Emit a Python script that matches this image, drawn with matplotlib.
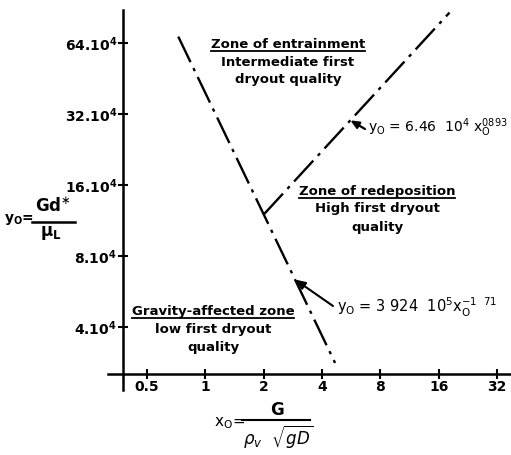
import matplotlib
matplotlib.use("Agg")
import matplotlib.pyplot as plt
import numpy as np
from matplotlib.lines import Line2D

# Axis ticks
x_ticks = [0.5, 1, 2, 4, 8, 16, 32]
x_tick_labels = ["0.5", "1", "2", "4", "8", "16", "32"]
y_ticks = [4e4, 8e4, 16e4, 32e4, 64e4]
y_tick_labels = [r"4.10$^{\mathbf{4}}$", r"8.10$^{\mathbf{4}}$", r"16.10$^{\mathbf{4}}$",
                 r"32.10$^{\mathbf{4}}$", r"64.10$^{\mathbf{4}}$"]

# Zone boundaries: y0 = coef * x0**expo, drawn between the x0 end points
gravity_coef, gravity_expo = 3.924e5, -1.71
gravity_x = [0.724, 4.67]
entrain_coef, entrain_expo = 6.46e4, 0.893
entrain_x = [2.0, 18.2]

FONT = "DejaVu Sans"
DASH = (0, (12, 2.8, 1.4, 2.8))
W, H = 511, 455

fig = plt.figure(figsize=(5.11, 4.55), dpi=100)
ax = fig.add_axes([108 / W, 65 / H, 403 / W, 380 / H])
ax.set_xscale("log")
ax.set_yscale("log")
ax.set_xlim(0.314, 37.8)
ax.set_ylim(2.16e4, 88.4e4)

for s in ("top", "right"):
    ax.spines[s].set_visible(False)
ax.spines["left"].set_position(("data", 0.376))
ax.spines["bottom"].set_position(("data", 2.53e4))
for s in ("left", "bottom"):
    ax.spines[s].set_linewidth(1.8)

ax.set_xticks(x_ticks)
ax.set_xticklabels(x_tick_labels)
ax.set_yticks(y_ticks)
ax.set_yticklabels(y_tick_labels)
ax.minorticks_off()
ax.tick_params(direction="inout", length=7, width=1.5, labelsize=10, pad=1)
for lab in ax.get_xticklabels() + ax.get_yticklabels():
    lab.set_fontweight("bold")
    lab.set_family(FONT)

gx = np.array(gravity_x)
ax.plot(gx, gravity_coef * gx ** gravity_expo, color="black", lw=1.7, linestyle=DASH)
ex = np.array(entrain_x)
ax.plot(ex, entrain_coef * ex ** entrain_expo, color="black", lw=1.7, linestyle=DASH)


def px(x, y):
    return (x / W, 1 - y / H)


# Equation call-outs
xa = 5.6
ax.annotate("", xy=(xa, entrain_coef * xa ** entrain_expo), xytext=px(365, 129),
            textcoords="figure fraction",
            arrowprops=dict(arrowstyle="-|>,head_length=0.5,head_width=0.22", color="black",
                            lw=1.6, shrinkA=0, shrinkB=0))
fig.text(*px(368, 128), r"y$_\mathregular{O}$ = 6.46  10$^4$ x$_\mathregular{O}^{0893}$",
         va="center", ha="left", fontsize=10, family=FONT)

xb = 2.9
ax.annotate("", xy=(xb, gravity_coef * xb ** gravity_expo), xytext=px(333, 306),
            textcoords="figure fraction",
            arrowprops=dict(arrowstyle="-|>,head_length=0.6,head_width=0.25", color="black",
                            lw=1.5, shrinkA=0, shrinkB=0))
fig.text(*px(337, 307), r"y$_\mathregular{O}$ = 3 924  10$^5$x$_\mathregular{O}^{-1\ \ 71}$",
         va="center", ha="left", fontsize=10.5, family=FONT)


def zone(xc, y_lines, lines, ha="center"):
    texts = []
    for yy, txt in zip(y_lines, lines):
        t = fig.text(*px(xc, yy), txt, ha=ha, va="center", fontsize=9.5,
                     fontweight="bold", family=FONT)
        texts.append(t)
    return texts


heads = []
heads.append(zone(288, [44, 62, 80], ["Zone of entrainment", "Intermediate first", "dryout quality"])[0])
heads.append(zone(377, [191, 209, 227], ["Zone of redeposition", "High first dryout", "quality"])[0])
heads.append(zone(213, [311, 329, 347], ["Gravity-affected zone", "low first dryout", "quality"])[0])

fig.canvas.draw()
r = fig.canvas.get_renderer()
for t in heads:
    bb = t.get_window_extent(r)
    y = (bb.y0 - 0.5) / fig.bbox.height
    fig.add_artist(Line2D([bb.x0 / fig.bbox.width, bb.x1 / fig.bbox.width], [y, y],
                          color="black", lw=1.3))

# Axis titles, written as stacked fractions
fig.text(*px(4, 219), r"$\mathbf{y_O}$=", ha="left", va="center", fontsize=10,
         family=FONT, fontweight="bold")
fig.text(*px(53, 207), r"Gd$^{\ast}$", ha="center", va="center", fontsize=12,
         family=FONT, fontweight="bold")
fig.add_artist(Line2D([32 / W, 75 / W], [1 - 222 / H] * 2, color="black", lw=1.8))
fig.text(*px(51, 233), r"$\mathbf{\mu}_\mathbf{L}$", ha="center", va="center", fontsize=12,
         family=FONT, fontweight="bold")

fig.text(*px(230, 423), r"x$_\mathregular{O}$=", ha="center", va="center", fontsize=11,
         family=FONT)
fig.text(*px(277, 410), "G", ha="center", va="center", fontsize=12, family=FONT,
         fontweight="bold")
fig.add_artist(Line2D([242 / W, 310 / W], [1 - 420 / H] * 2, color="black", lw=1.5))
fig.text(*px(278, 437), r"$\rho_v\ \ \sqrt{gD}$", ha="center", va="center", fontsize=12,
         family=FONT)

fig.savefig("out.png", dpi=100)
